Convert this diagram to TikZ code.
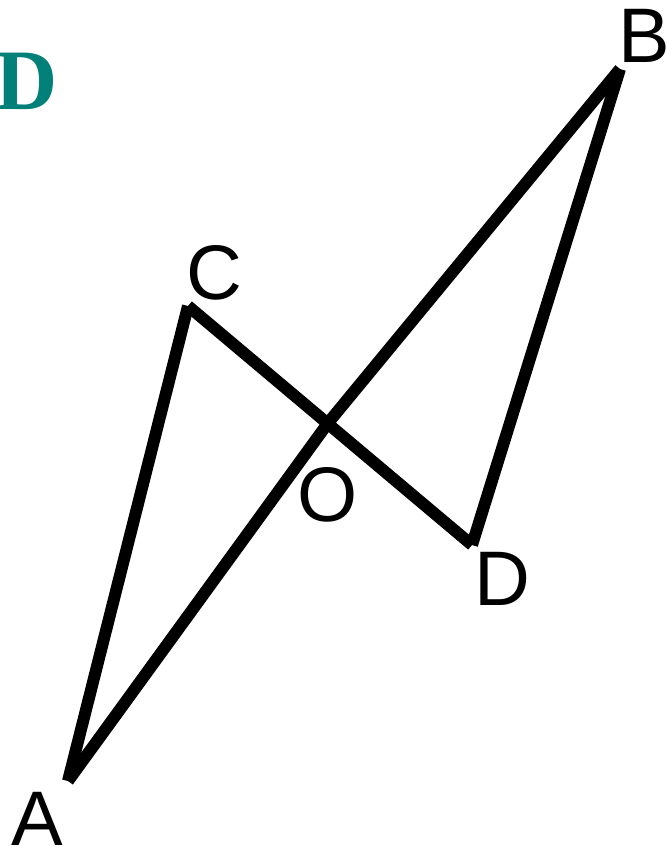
\documentclass[tikz,border=0pt]{standalone}
\usepackage{fontspec}
\setmainfont{Liberation Sans}
\newfontfamily\serifbold{Liberation Serif}
\usetikzlibrary{positioning, calc}
\definecolor{TitleTeal}{RGB}{0, 128, 120}

\tikzset{
  seg/.style={line width=3.4pt, line cap=butt, line join=miter},
  vlabel/.style={anchor=base, inner sep=0pt, font=\fontsize{22}{26}\selectfont}
}

\begin{document}
\begin{tikzpicture}[x=0.01cm, y=-0.01cm]
    \useasboundingbox (0,0) rectangle (666,846);

    % vertices
    \coordinate (A) at (68,781);
    \coordinate (B) at (620,69);
    \coordinate (C) at (188,306);
    \coordinate (D) at (472,545);
    \coordinate (O) at (328,423);

    % sides
    \draw[seg] (A) -- (C);
    \draw[seg] (C) -- (D);
    \draw[seg] (D) -- (B);
    \draw[seg] (A) -- (O) -- (B);

    % labels
    \node[vlabel] (labA) at (37,845) {A};
    \node[vlabel] (labB) at (644,63) {B};
    \node[vlabel] (labC) at (214,300) {C};
    \node[vlabel] (labO) at (328,521) {O};
    \node[vlabel] (labD) at (502,605) {D};
    \node[anchor=base, inner sep=0pt, text=TitleTeal,
          font=\serifbold\bfseries\fontsize{24.5}{28}\selectfont] (title) at (27,110) {D};
\end{tikzpicture}
\end{document}
